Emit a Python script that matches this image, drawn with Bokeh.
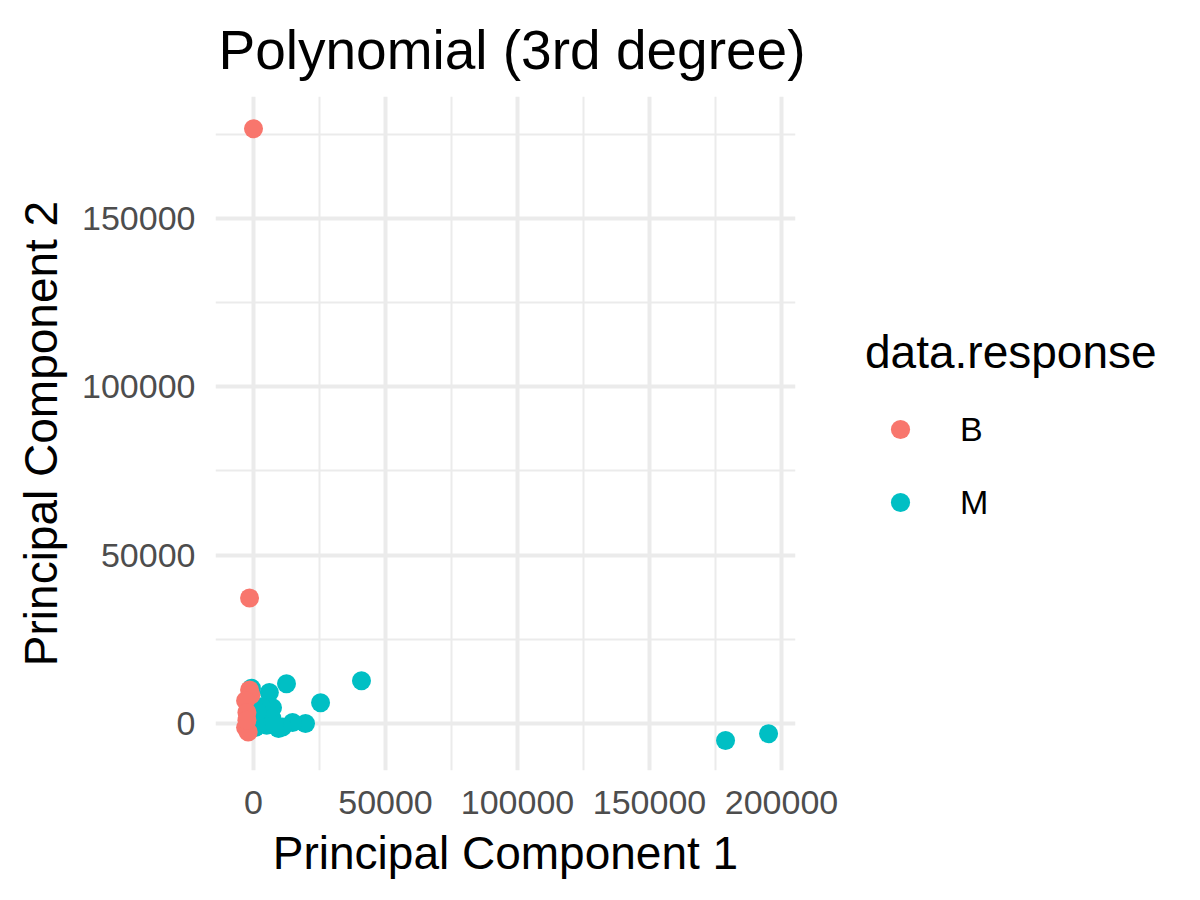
from bokeh.plotting import figure
from bokeh.layouts import row
from bokeh.models import Legend, LegendItem, FixedTicker, Range1d
from bokeh.embed import file_html
from bokeh.resources import INLINE

# ---- data ----
b_x = [0, -1500, -1500, -1000, -3000, -2500, -3000, -2000, -2500]
b_y = [176600, 37300, 10000, 8500, 6800, 3300, -1200, -2500, 1000]

m_x = [178800, 195100, 40900, 25400, 12500, 6000, -800, 19700, 14800, 9500,
       7200, 4500, 700, 2000, 5000, 3000, -500, 11000, 7000, 1500, 8000]
m_y = [-5000, -3000, 12700, 6200, 11800, 9200, 10500, 0, 300, -1500,
       4700, 0, -1200, 2000, -500, 5000, 500, -1000, 1500, 3500, -500]

x_ticks = [0, 50000, 100000, 150000, 200000]
x_minor = [25000, 75000, 125000, 175000]
y_ticks = [0, 50000, 100000, 150000]
y_minor = [25000, 75000, 125000, 175000]

title_text = "Polynomial (3rd degree)"
x_title = "Principal Component 1"
y_title = "Principal Component 2"
legend_title = "data.response"
groups = ["B", "M"]
colors = {"B": "#F8766D", "M": "#00BFC4"}

FONT = "Liberation Sans"

# ---- main panel ----
p = figure(width=840, height=884, output_backend="svg", toolbar_location=None,
           x_range=Range1d(-14394, 205300), y_range=Range1d(-13933, 186170),
           min_border_left=215, min_border_right=45, min_border_top=95,
           min_border_bottom=114, title=title_text)
p.outline_line_color = None
p.background_fill_color = "white"
p.border_fill_color = "white"

p.title.text_font = FONT
p.title.text_font_size = "55px"
p.title.text_font_style = "normal"
p.title.text_color = "black"
p.title.align = "left"
p.title.offset = 3
p.title.standoff = 32

for ax, ticks, minor in ((p.xaxis[0], x_ticks, x_minor), (p.yaxis[0], y_ticks, y_minor)):
    ax.ticker = FixedTicker(ticks=ticks, minor_ticks=minor)
    ax.axis_line_color = None
    ax.major_tick_line_color = None
    ax.minor_tick_line_color = None
    ax.major_tick_out = 0
    ax.minor_tick_out = 0
    ax.major_label_text_font = FONT
    ax.major_label_text_font_size = "34px"
    ax.major_label_text_color = "#4D4D4D"
    ax.major_label_standoff = 20
    ax.axis_label_text_font = FONT
    ax.axis_label_text_font_size = "46px"
    ax.axis_label_text_font_style = "normal"
    ax.axis_label_text_color = "black"
p.xaxis[0].formatter.use_scientific = False
p.yaxis[0].formatter.use_scientific = False
p.xaxis[0].axis_label = x_title
p.yaxis[0].axis_label = y_title
p.xaxis[0].axis_label_standoff = 10
p.yaxis[0].axis_label_standoff = 12

for g in (p.xgrid[0], p.ygrid[0]):
    g.grid_line_color = "#EBEBEB"
    g.grid_line_width = 4
    g.minor_grid_line_color = "#EBEBEB"
    g.minor_grid_line_width = 2
p.xgrid[0].ticker = FixedTicker(ticks=x_ticks, minor_ticks=x_minor)
p.ygrid[0].ticker = FixedTicker(ticks=y_ticks, minor_ticks=y_minor)

p.scatter(m_x, m_y, size=19, color=colors["M"], line_color=None)
p.scatter(b_x, b_y, size=19, color=colors["B"], line_color=None)

# ---- legend panel (its own scatter renderers fall outside its empty frame) ----
pl = figure(width=344, height=884, output_backend="svg", toolbar_location=None,
            x_range=Range1d(1e7, 2e7), y_range=Range1d(1e7, 2e7), min_border=0,
            x_axis_location=None, y_axis_location=None)
pl.grid.visible = False
pl.outline_line_color = None
pl.background_fill_color = "white"
pl.border_fill_color = "white"
lb = pl.scatter(b_x, b_y, size=19, color=colors["B"], line_color=None)
lm = pl.scatter(m_x, m_y, size=19, color=colors["M"], line_color=None)

legend = Legend(items=[LegendItem(label=groups[0], renderers=[lb]),
                       LegendItem(label=groups[1], renderers=[lm])],
                location=(25, 244), title=legend_title,
                title_text_font=FONT, title_text_font_size="46px",
                title_text_font_style="normal", title_text_color="black",
                title_standoff=26,
                label_text_font=FONT, label_text_font_size="34px",
                label_text_color="black", label_standoff=25,
                glyph_width=70, glyph_height=48, spacing=25,
                padding=0, margin=0, border_line_color=None,
                background_fill_alpha=0)
pl.add_layout(legend)

layout = row(p, pl, spacing=0)
open("out.html", "w").write(file_html(layout, INLINE))
